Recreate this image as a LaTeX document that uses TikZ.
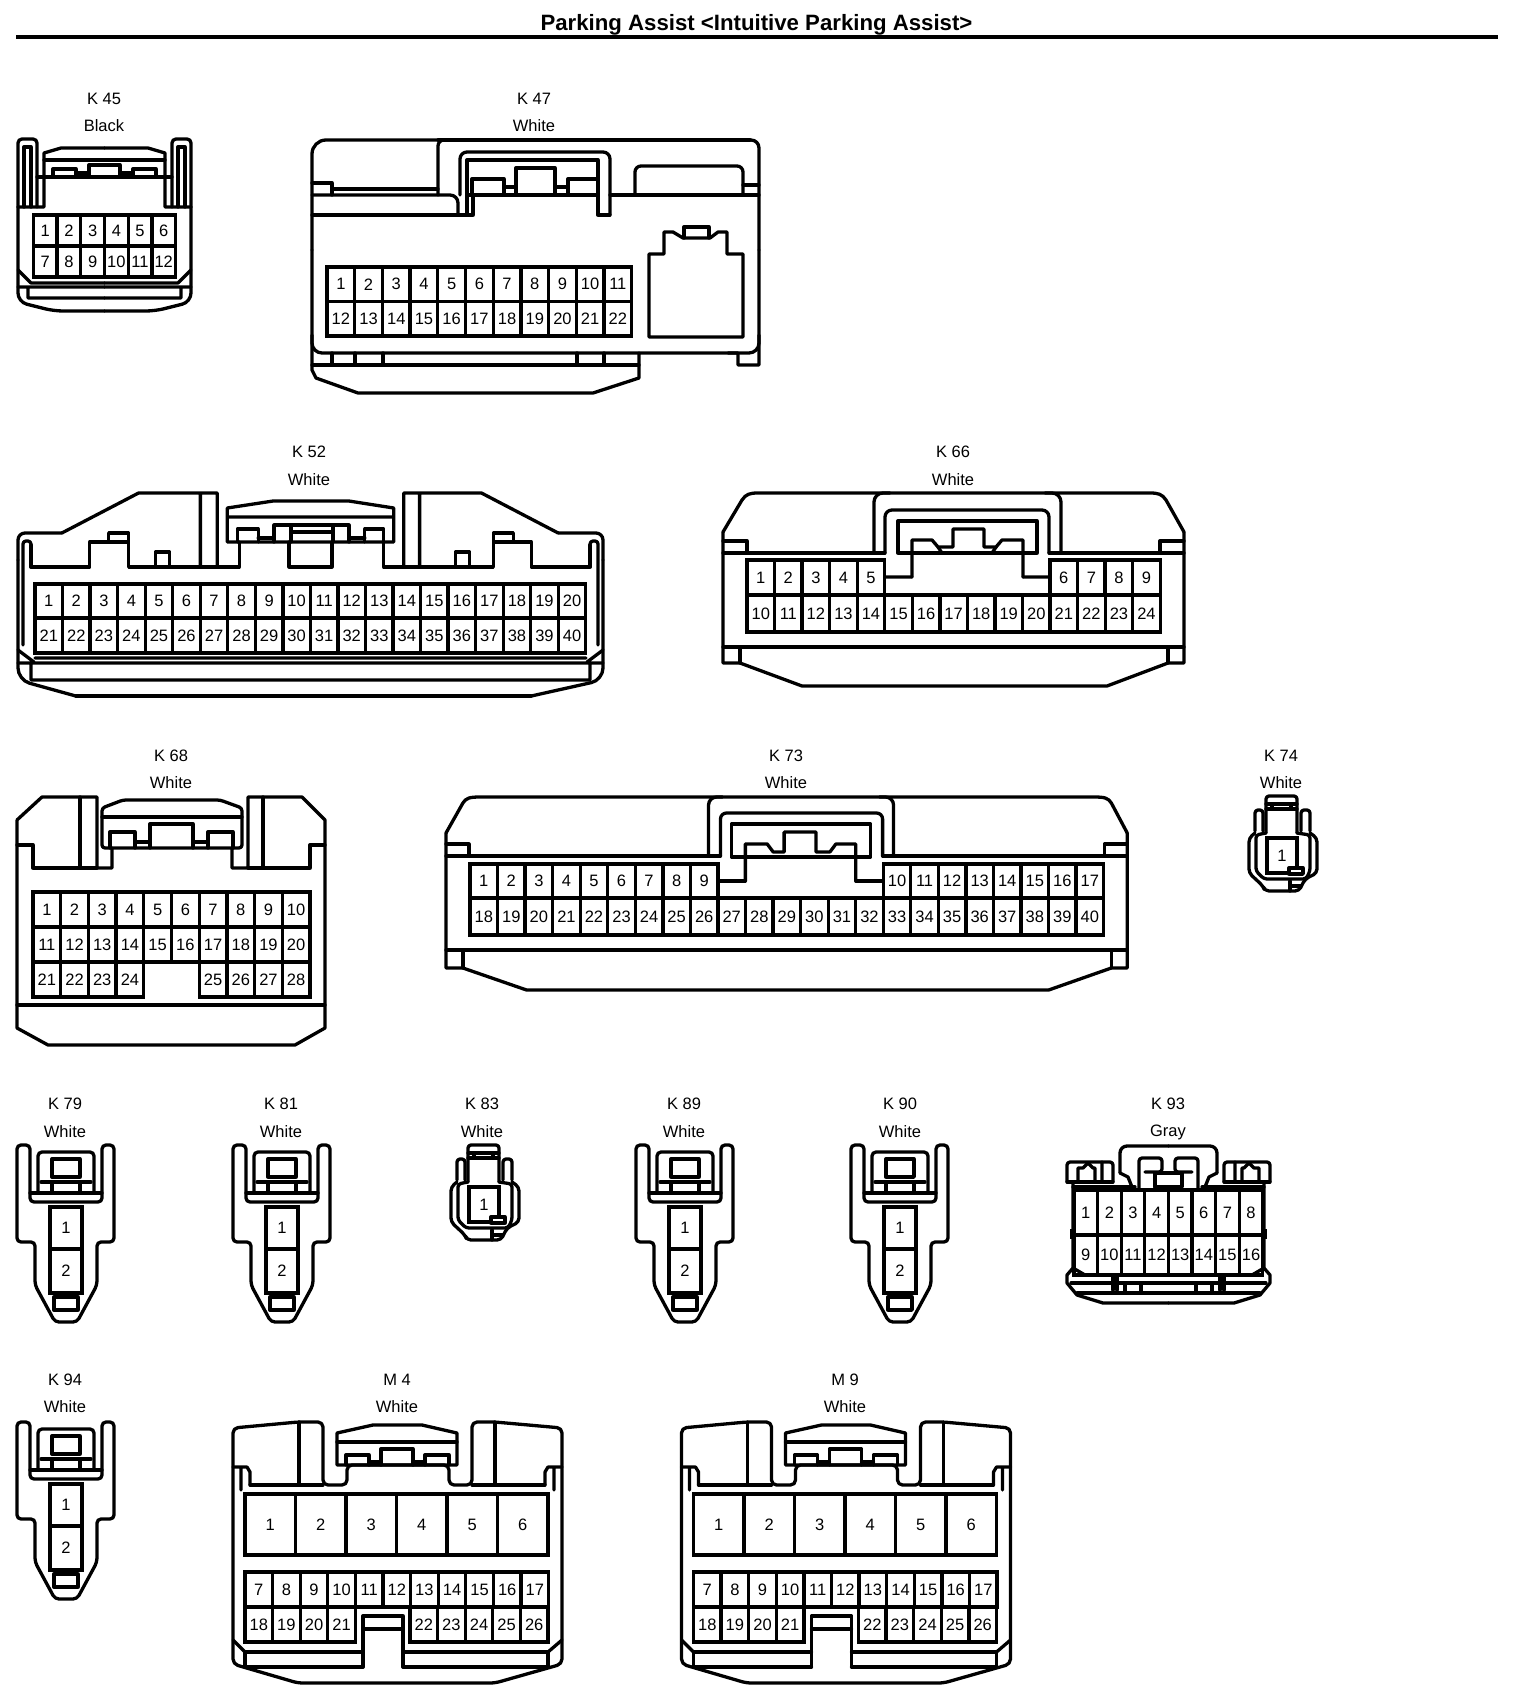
\documentclass[tikz,border=0pt]{standalone}
\usepackage{fontspec}
\setmainfont{Liberation Sans}
\tikzset{
 ln/.style={line width=3.3pt,line join=round,line cap=round},
 pin/.style={draw,line width=3.3pt,inner sep=0pt,outer sep=0pt,anchor=north west,font=\fontsize{16.5}{18}\selectfont},
 lbl/.style={inner sep=0pt,font=\fontsize{16.5}{18}\selectfont},
 ttl/.style={inner sep=0pt,font=\fontsize{22.2}{24}\selectfont\bfseries},
 mir/.style={shift={(#1,0)},xscale=-1}
}
% prefix, x0, y0, w, h, first, last
\newcommand{\pinrow}[7]{%
 \foreach \pinnum in {#6,...,#7}{%
  \pgfmathsetmacro\pinx{#2+(\pinnum-#6)*#4}%
  \node[pin,minimum width=#4pt,minimum height=#5pt] (#1p\pinnum) at (\pinx,#3) {\pinnum};
 }}
\newcommand{\twoplug}[3]{%
 \begin{scope}[shift={(#2,#3)}]
  \draw[ln,rounded corners=4pt] (17,1200)--(17,1145)--(30,1145)--(30,1202)--(102,1202)--(102,1145)--(114,1145)--(114,1242)--(97,1242)--(97,1285)--(77,1322)--(55,1322)--(35,1285)--(35,1242)--(17,1242)--cycle;
  \draw[ln,rounded corners=4pt] (38,1193)--(38,1152)--(94,1152)--(94,1193);
  \draw[ln] (52,1159) rectangle (80,1177);
  \draw[ln] (41,1182)--(91,1182) (52,1184)--(52,1193) (80,1184)--(80,1193) (30,1193)--(102,1193);
  \draw[ln] (54,1297) rectangle (78,1310);
  \pinrow{#1}{50}{1207}{32}{42}{1}{1}
  \pinrow{#1}{50}{1249}{32}{44}{2}{2}
 \end{scope}}
\newcommand{\oneplug}[3]{%
 \begin{scope}[shift={(#2,#3)}]
  \draw[ln,rounded corners=3pt] (472,1182)--(472,1145)--(503,1145)--(503,1182);
  \draw[ln] (472,1153)--(503,1153) (472,1158)--(503,1158) (478,1153)--(478,1158) (497,1153)--(497,1158);
  \draw[ln,rounded corners=3pt] (469,1180)--(469,1159)--(461,1159)--(461,1180) (507,1180)--(507,1159)--(516,1159)--(516,1180);
  \draw[ln,rounded corners=4pt] (461,1182)--(455,1187)--(455,1222)--(469,1235)--(471,1240)--(505,1240)--(511,1228)--(523,1222)--(523,1187)--(516,1182);
  \draw[ln,rounded corners=3pt] (472,1182)--(462,1184)--(462,1220)--(470,1228)--(512,1228)--(516,1220)--(516,1184)--(503,1182);
  \node[pin,minimum width=30pt,minimum height=35pt] (#1p1) at (473,1187) {1};
  \draw[ln,fill=white] (495,1217) rectangle (509,1223);
  \draw[ln] (496,1230)--(496,1240) (496,1235)--(507,1235);
 \end{scope}}
\newcommand{\mconn}[2]{%
 \begin{scope}[shift={(#2,0)}]
  \draw[ln,rounded corners=5pt] (233,1450)--(233,1428)--(298,1422)--(323,1422)--(323,1485)--(347,1485)--(347,1465)--(449,1465)--(449,1485)--(472,1485)--(472,1422)--(495,1422)--(562,1428)--(562,1664)--(495,1683)--(298,1683)--(233,1664)--cycle;
  \draw[ln] (337,1465)--(337,1433)--(373,1425)--(422,1425)--(457,1433)--(457,1465)--(337,1465);
  \draw[ln] (337,1442)--(457,1442);
  \draw[ln] (346,1465)--(346,1455)--(369,1455)--(369,1465) (381,1465)--(381,1449)--(413,1449)--(413,1465) (425,1465)--(425,1455)--(449,1455)--(449,1465) (369,1462)--(381,1462) (413,1462)--(425,1462);
  \draw[ln] (299,1422)--(299,1485) (495,1422)--(495,1485);
  \draw[ln] (250,1485)--(323,1485) (472,1485)--(545,1485);
  \draw[ln] (233,1467)--(247,1467)--(250,1472)--(250,1485) (241,1467)--(241,1490);
  \draw[ln] (562,1467)--(548,1467)--(545,1472)--(545,1485) (554,1467)--(554,1490);
  \pinrow{#1}{245}{1494}{50.5}{61}{1}{6}
  \pinrow{#1}{245}{1572}{27.6}{35}{7}{17}
  \pinrow{#1}{245}{1607}{27.6}{35}{18}{21}
  \pinrow{#1}{410}{1607}{27.6}{35}{22}{26}
  \draw[ln] (363,1667)--(363,1616)--(403,1616)--(403,1667) (363,1629)--(403,1629);
  \draw[ln] (363,1652)--(245,1652)--(245,1667)--(363,1667) (403,1652)--(548,1652)--(548,1667)--(403,1667);
  \draw[ln] (233,1640)--(245,1652) (562,1640)--(548,1652);
 \end{scope}}
\newcommand{\halfKfortyfive}{%
  \draw[ln,rounded corners=4pt] (19,207)--(19,139)--(38,139)--(38,207);
  \draw[ln] (25,207)--(25,147)--(32,147)--(32,207);
  \draw[ln] (19,207)--(45,207)--(45,153)--(62,148)--(105.5,148);
  \draw[ln] (45,160)--(105.5,160) (38,177)--(105.5,177);
  \draw[ln] (54,177)--(54,169)--(77,169)--(77,177) (90,177)--(90,165)--(105.5,165) (77,173)--(90,173);
  \draw[ln,rounded corners=9pt] (19,207)--(19,302)--(55,311)--(105.5,311);
  \draw[ln] (19,270)--(32,283)--(105.5,283) (19,287)--(105.5,287) (29,287)--(29,298)--(105.5,298);
}
\newcommand{\halfKninetythree}{%
  \draw[ln,rounded corners=7pt] (1120,1173)--(1120,1146)--(1168.5,1146);
  \draw[ln] (1120,1173)--(1128,1177)--(1132,1187);
  \draw[ln,rounded corners=3pt] (1139,1190)--(1139,1158)--(1162,1158)--(1162,1172)--(1145,1172);
  \draw[ln] (1155,1173)--(1155,1187)--(1168.5,1187) (1155,1173)--(1168.5,1173);
  \draw[ln,rounded corners=3pt] (1067,1182)--(1067,1162)--(1113,1162)--(1113,1182);
  \draw[ln] (1078,1182)--(1078,1168)--(1083,1168)--(1088,1163)--(1093,1168)--(1095,1168)--(1095,1182) (1102,1162)--(1102,1182);
  \draw[ln] (1067,1182)--(1113,1182) (1073,1187)--(1135,1187);
  \draw[ln] (1073,1182)--(1073,1268)--(1067,1275)--(1067,1283)--(1077,1295)--(1103,1303)--(1168.5,1303);
  \draw[ln] (1073,1268)--(1085,1275);
  \draw[ln] (1071,1283)--(1168.5,1283) (1077,1293)--(1168.5,1293);
  \draw[ln] (1113,1275)--(1113,1290) (1117,1275)--(1117,1290) (1125,1283)--(1125,1293) (1141,1283)--(1141,1293);
  \draw[line width=1.5pt] (1071,1230) rectangle (1075,1238);
}
\begin{document}
\begin{tikzpicture}[x=1pt,y=-1pt]
\useasboundingbox (0,0) rectangle (1520,1702);
\fill[white] (0,0) rectangle (1520,1702);
% Title
\node[ttl] (title) at (756.5,25) {Parking Assist <Intuitive Parking Assist>};
\draw[line width=4pt] (16,37)--(1498,37);
% Labels
\foreach \nm/\tag/\cl/\xx/\ya/\yb in {a/K 45/Black/104/99/126,b/K 47/White/534/99/126,c/K 52/White/309/452/480,d/K 66/White/953/452/480,e/K 68/White/171/756/783,f/K 73/White/786/756/783,g/K 74/White/1281/756/783,h/K 79/White/65/1104/1132,i/K 81/White/281/1104/1132,j/K 83/White/482/1104/1132,k/K 89/White/684/1104/1132,l/K 90/White/900/1104/1132,m/K 93/Gray/1168/1104/1132,n/K 94/White/65/1380/1407,o/M 4/White/397/1380/1407,q/M 9/White/845/1380/1407}{
 \node[lbl] (name\nm) at (\xx,\ya) {\tag};
 \node[lbl] (col\nm) at (\xx,\yb) {\cl};
}
% K45
\begin{scope}[shift={(-1,0)}]\halfKfortyfive\end{scope}
\begin{scope}[mir=210]\halfKfortyfive\end{scope}
\pinrow{K45}{33.4}{215}{23.7}{31}{1}{6}
\pinrow{K45}{33.4}{246}{23.7}{31}{7}{12}
% K47
\begin{scope}[shift={(-2,0)}]
 \draw[ln,rounded corners=14pt] (314,250)--(314,140)--(440,140);
 \draw[ln] (440,140)--(752,140);
 \draw[ln,rounded corners=8pt] (740,140)--(761,140)--(761,250);
 \draw[ln] (314,250)--(314,370)--(318,378)--(360,393)--(595,393)--(641,378)--(641,353)--(740,353)--(740,365)--(761,365)--(761,250);
 \draw[ln,rounded corners=10pt] (314,335)--(314,353)--(641,353);
 \draw[ln,rounded corners=10pt] (761,335)--(761,353)--(730,353);
 \draw[ln] (314,365)--(641,365) (334,353)--(334,365) (357,353)--(357,365) (385,353)--(385,365) (579,353)--(579,365) (606,353)--(606,365);
 \draw[ln] (314,183)--(334,183)--(334,195) (334,189)--(440,189);
 \draw[ln,rounded corners=8pt] (314,195)--(460,195)--(460,215);
 \draw[ln] (314,215)--(475,215)--(475,195);
 \draw[ln,rounded corners=6pt] (440,195)--(440,140)--(452,140);
 \draw[ln,rounded corners=7pt] (462,195)--(462,152)--(612,152)--(612,215);
 \draw[ln] (612,215)--(600,215)--(600,160)--(469,160)--(469,215);
 \draw[ln] (469,195)--(600,195) (612,195)--(761,195);
 \draw[ln] (474,195)--(474,179)--(506,179)--(506,195) (518,195)--(518,168)--(557,168)--(557,195) (570,195)--(570,179)--(600,179)--(600,195) (506,187)--(518,187) (557,187)--(570,187);
 \draw[ln,rounded corners=6pt] (637,195)--(637,166)--(745,166)--(745,195);
 \draw[ln] (745,185)--(761,185);
 \draw[ln] (651,337)--(651,254)--(666,254)--(666,232)--(675,232)--(685,238)--(712,238)--(720,232)--(729,232)--(729,254)--(745,254)--(745,337)--cycle;
 \draw[ln] (686,238)--(686,227)--(711,227)--(711,238);
 \pinrow{K47}{329}{267}{27.7}{34.5}{1}{11}
 \pinrow{K47}{329}{301.5}{27.7}{34.5}{12}{22}
\end{scope}
% K52
\begin{scope}[shift={(0.06,0)},xscale=.9966]
\draw[ln,rounded corners=7pt] (18,560)--(18,533)--(62,533);
\draw[ln] (62,533)--(139,493)--(218,493)--(218,567) (201,493)--(201,567);
\draw[ln,rounded corners=12pt] (18,560)--(18,680)--(76,696);
\draw[ln] (76,696)--(533,696);
\draw[ln,rounded corners=12pt] (533,696)--(605,680)--(605,560);
\draw[ln,rounded corners=7pt] (605,560)--(605,533)--(560,533);
\draw[ln] (560,533)--(483,493)--(405,493)--(405,567) (421,493)--(421,567);
\draw[ln] (31,545)--(31,567)--(90,567)--(90,542)--(129,542)--(129,567)--(240,567)--(240,542);
\draw[ln] (109,540)--(109,533)--(129,533)--(129,542) (156,567)--(156,552)--(170,552)--(170,567);
\draw[ln] (385,542)--(385,567)--(495,567)--(495,542)--(533,542)--(533,567)--(592,567)--(592,545);
\draw[ln] (495,542)--(495,533)--(515,533)--(515,542) (457,567)--(457,552)--(471,552)--(471,567);
\draw[ln,rounded corners=3pt] (31,567)--(31,541)--(23,541)--(23,645);
\draw[ln,rounded corners=3pt] (592,567)--(592,541)--(600,541)--(600,645);
\draw[ln] (228,542)--(228,508)--(274,501)--(350,501)--(395,508)--(395,542)--cycle (228,517)--(395,517);
\draw[ln] (238,542)--(238,529)--(259,529)--(259,542) (275,542)--(275,525)--(350,525)--(350,542) (292,525)--(292,542) (334,525)--(334,542) (366,542)--(366,529)--(385,529)--(385,542) (259,538)--(275,538) (350,538)--(366,538) (292,532)--(334,532);
\draw[ln] (290,542)--(290,567)--(333,567)--(333,542);
\draw[ln] (35,658)--(588,658) (18,663)--(605,663) (31,665)--(31,680)--(592,680)--(592,665) (18,650)--(34,662) (605,650)--(589,662);
\end{scope}
\pinrow{K52}{35}{584}{27.54}{34}{1}{20}
\pinrow{K52}{35}{618}{27.54}{35}{21}{40}
% K66
\draw[ln] (723,532)--(742,500) .. controls (746,494) and (750,493) .. (758,493)--(1150,493) .. controls (1158,493) and (1162,494) .. (1166,500)--(1184,532);
\draw[ln] (723,532)--(723,663)--(740,663)--(802,686)--(1107,686)--(1168,663)--(1184,663)--(1184,532);
\draw[ln] (723,553)--(885,553) (1049,553)--(1184,553) (723,541)--(747,541)--(747,553) (1160,553)--(1160,541)--(1184,541);
\draw[ln] (723,647)--(1184,647) (740,647)--(740,663) (1168,647)--(1168,663);
\draw[ln,rounded corners=9pt] (874,553)--(874,493)--(890,493);
\draw[ln,rounded corners=9pt] (1061,553)--(1061,493)--(1045,493);
\draw[ln,rounded corners=7pt] (885,553)--(885,510)--(1049,510)--(1049,553);
\draw[ln] (898,521) rectangle (1037,553);
\draw[ln] (912,577)--(912,540)--(932,540)--(938,547)--(953,547)--(953,529)--(984,529)--(984,547)--(996,547)--(1002,540)--(1023,540)--(1023,577);
\draw[ln] (912,577)--(885,577) (1023,577)--(1050,577) (938,547)--(942,553) (996,547)--(992,553);
\pinrow{K66}{747}{560}{27.55}{35}{1}{5}
\pinrow{K66}{1050}{560}{27.55}{35}{6}{9}
\pinrow{K66}{747}{595}{27.55}{37}{10}{24}
% K68
\draw[ln] (17,820)--(42,797)--(97,797)--(97,868)--(112,868)--(112,848) (17,820)--(17,1028)--(48,1045)--(295,1045)--(325,1028)--(325,820)--(302,797)--(248,797)--(248,868)--(232,868)--(232,848);
\draw[ln] (17,845)--(33,845)--(33,868)--(97,868) (80,797)--(80,868) (263,797)--(263,868) (248,868)--(310,868)--(310,845)--(325,845);
\draw[ln,rounded corners=3pt] (102,848)--(102,808)--(123,800)--(220,800)--(242,808)--(242,848)--cycle;
\draw[ln] (102,817)--(242,817) (110,848)--(110,832)--(135,832)--(135,848) (150,848)--(150,824)--(193,824)--(193,848) (208,848)--(208,832)--(233,832)--(233,848) (135,842)--(150,842) (193,842)--(208,842);
\draw[ln] (17,1005)--(325,1005);
\pinrow{K68}{33}{892}{27.7}{35}{1}{10}
\pinrow{K68}{33}{927}{27.7}{35}{11}{20}
\pinrow{K68}{33}{962}{27.7}{35}{21}{24}
\pinrow{K68}{199.2}{962}{27.7}{35}{25}{28}
% K73
\begin{scope}[shift={(2.453,0)},xscale=.9945]
\draw[ln] (446,833)--(463,803) .. controls (466,798) and (470,797) .. (480,797)--(1098,797) .. controls (1108,797) and (1112,798) .. (1115,803)--(1131,833);
\draw[ln] (446,833)--(446,968)--(463,968)--(527,990)--(1052,990)--(1115,968)--(1131,968)--(1131,833);
\draw[ln] (446,856)--(722,856) (885,856)--(1131,856) (446,844)--(469,844)--(469,856) (1108,856)--(1108,844)--(1131,844);
\draw[ln] (446,950)--(1131,950) (463,950)--(463,968) (1115,950)--(1115,968);
\draw[ln,rounded corners=8pt] (710,856)--(710,797)--(724,797);
\draw[ln,rounded corners=8pt] (896,856)--(896,797)--(882,797);
\draw[ln,rounded corners=6pt] (722,856)--(722,813)--(885,813)--(885,856);
\draw[ln] (733,824) rectangle (873,857);
\draw[ln] (747,881)--(747,844)--(769,844)--(775,852)--(786,852)--(786,832)--(818,832)--(818,852)--(832,852)--(838,844)--(858,844)--(858,881);
\draw[ln] (747,881)--(722,881) (858,881)--(885,881);
\end{scope}
\pinrow{K73}{470}{864}{27.55}{34}{1}{9}
\pinrow{K73}{883.25}{864}{27.55}{34}{10}{17}
\pinrow{K73}{470}{898}{27.55}{37}{18}{40}
% plugs
\oneplug{K74}{794}{-349}
\twoplug{K79}{0}{0}
\twoplug{K81}{216}{0}
\oneplug{K83}{-4}{0}
\twoplug{K89}{619}{0}
\twoplug{K90}{834}{0}
% K93
\halfKninetythree
\begin{scope}[mir=2337]\halfKninetythree\end{scope}
\pinrow{K93}{1074}{1190}{23.6}{45}{1}{8}
\pinrow{K93}{1074}{1235}{23.6}{40}{9}{16}
\twoplug{K94}{0}{277}
\mconn{M4}{0}
\mconn{M9}{448.5}
\end{tikzpicture}
\end{document}
